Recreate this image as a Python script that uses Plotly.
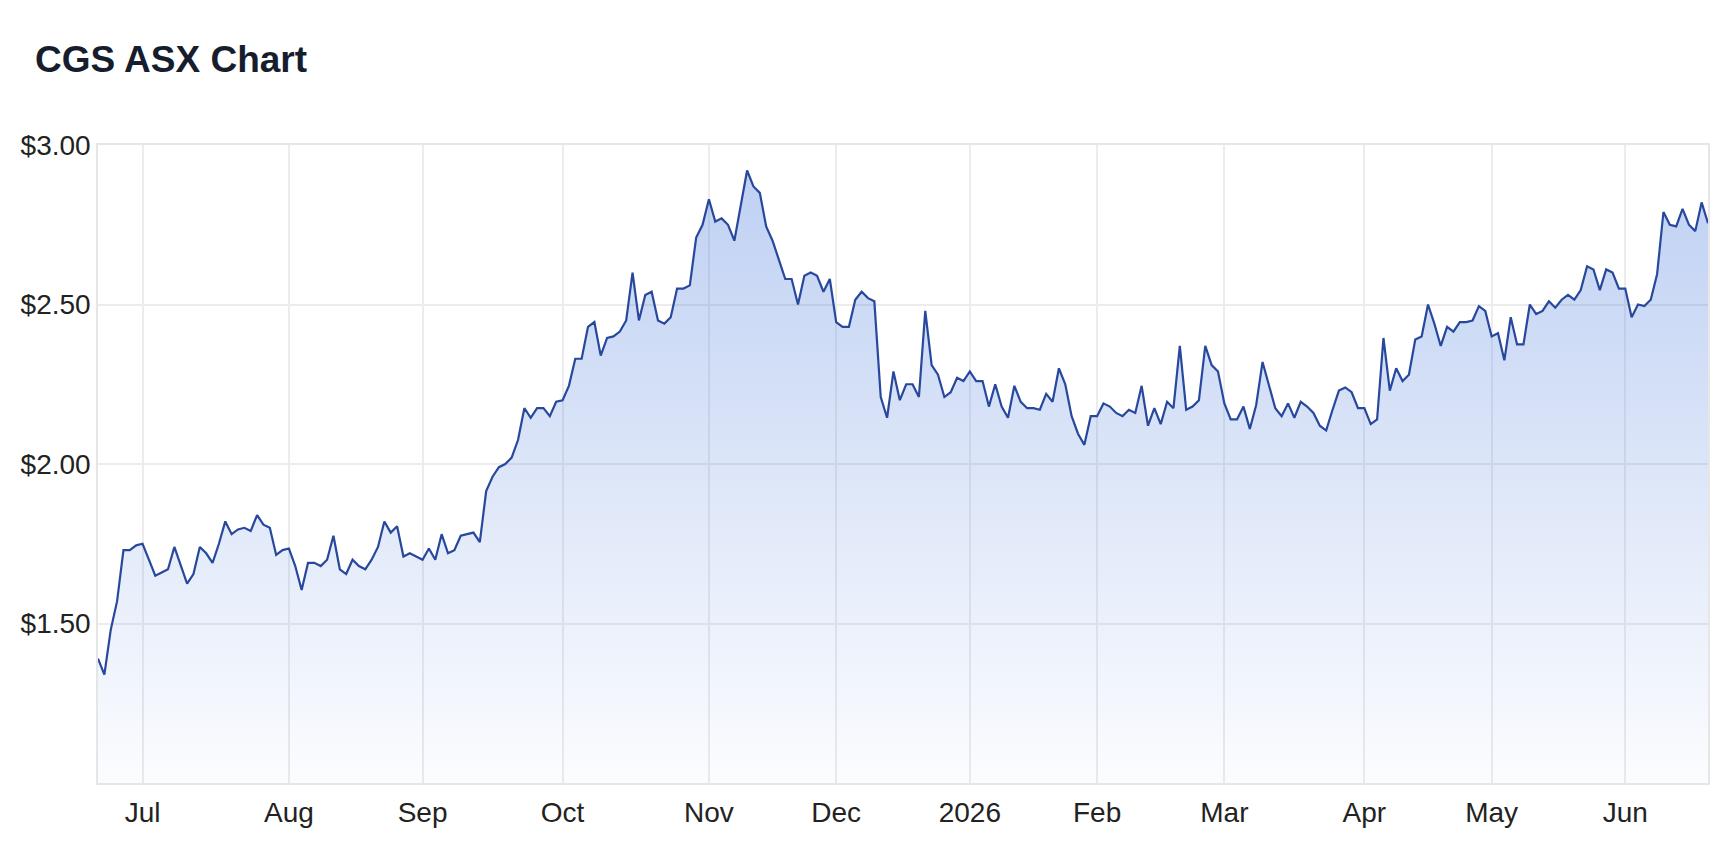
import pandas as pd
import plotly.graph_objects as go

# ASX trading days, 20 Jun 2025 - 19 Jun 2026
asx_holidays = ["2025-12-25", "2025-12-26", "2026-01-01", "2026-01-26",
                "2026-04-03", "2026-04-06", "2026-06-08"]
dates = pd.bdate_range("2025-06-20", "2026-06-19", freq="C", holidays=asx_holidays)
dates = [d.strftime("%Y-%m-%d") for d in dates]

close = [
    1.39, 1.34, 1.48, 1.57, 1.73, 1.73, 1.745, 1.75, 1.70, 1.65,
    1.66, 1.67, 1.74, 1.68, 1.625, 1.655, 1.74, 1.72, 1.69, 1.75,
    1.82, 1.78, 1.795, 1.80, 1.79, 1.84, 1.81, 1.80, 1.715, 1.73,
    1.735, 1.68, 1.605, 1.69, 1.69, 1.68, 1.70, 1.775, 1.67, 1.655,
    1.70, 1.68, 1.67, 1.70, 1.74, 1.82, 1.785, 1.805, 1.71, 1.72,
    1.71, 1.70, 1.735, 1.70, 1.78, 1.72, 1.73, 1.775, 1.78, 1.785,
    1.755, 1.915, 1.96, 1.99, 2.00, 2.02, 2.075, 2.175, 2.145, 2.175,
    2.175, 2.15, 2.195, 2.20, 2.245, 2.33, 2.33, 2.43, 2.445, 2.34,
    2.395, 2.40, 2.415, 2.45, 2.60, 2.45, 2.53, 2.54, 2.45, 2.44,
    2.46, 2.55, 2.55, 2.56, 2.71, 2.75, 2.83, 2.76, 2.77, 2.75,
    2.70, 2.81, 2.92, 2.87, 2.85, 2.745, 2.70, 2.64, 2.58, 2.58,
    2.50, 2.59, 2.60, 2.59, 2.54, 2.58, 2.445, 2.43, 2.43, 2.515,
    2.54, 2.52, 2.51, 2.21, 2.145, 2.29, 2.20, 2.25, 2.25, 2.21,
    2.48, 2.31, 2.28, 2.21, 2.225, 2.27, 2.26, 2.29, 2.26, 2.26,
    2.18, 2.25, 2.18, 2.145, 2.245, 2.195, 2.175, 2.175, 2.17, 2.22,
    2.195, 2.30, 2.25, 2.15, 2.095, 2.06, 2.15, 2.15, 2.19, 2.18,
    2.16, 2.15, 2.17, 2.16, 2.245, 2.12, 2.175, 2.125, 2.195, 2.175,
    2.37, 2.17, 2.18, 2.20, 2.37, 2.31, 2.29, 2.19, 2.14, 2.14,
    2.18, 2.11, 2.185, 2.32, 2.25, 2.175, 2.15, 2.19, 2.145, 2.195,
    2.18, 2.16, 2.12, 2.105, 2.17, 2.23, 2.24, 2.225, 2.175, 2.175,
    2.125, 2.14, 2.395, 2.23, 2.30, 2.26, 2.28, 2.39, 2.40, 2.50,
    2.44, 2.37, 2.43, 2.415, 2.445, 2.445, 2.45, 2.495, 2.48, 2.40,
    2.41, 2.325, 2.46, 2.375, 2.375, 2.50, 2.47, 2.48, 2.51, 2.49,
    2.515, 2.53, 2.515, 2.545, 2.62, 2.61, 2.545, 2.61, 2.60, 2.55,
    2.55, 2.46, 2.50, 2.495, 2.515, 2.595, 2.79, 2.75, 2.745, 2.80,
    2.75, 2.73, 2.82, 2.755,
]

month_labels = ["Jul", "Aug", "Sep", "Oct", "Nov", "Dec", "2026",
                "Feb", "Mar", "Apr", "May", "Jun"]
price_ticks = [1.5, 2.0, 2.5, 3.0]
price_labels = ["$%.2f" % v for v in price_ticks]

# first trading day of each month gets a tick
month_starts = []
for d in dates:
    if d[:7] not in [m[:7] for m in month_starts] and d[:7] != "2025-06":
        month_starts.append(d)

font = "Liberation Sans, Arial, sans-serif"

fig = go.Figure()
fig.add_trace(go.Scatter(
    x=dates, y=close, mode="lines",
    line=dict(color="#27489c", width=2.2),
    fill="tozeroy",
    fillgradient=dict(
        type="vertical", start=1.0, stop=3.0,
        colorscale=[[0, "rgba(70,120,220,0.02)"], [1, "rgba(70,120,220,0.36)"]],
    ),
    hoverinfo="skip",
))

fig.update_layout(
    width=1718, height=852,
    margin=dict(l=90, r=18, t=137, b=77),
    paper_bgcolor="white", plot_bgcolor="white",
    showlegend=False,
    title=dict(
        text="<b>CGS ASX Chart</b>",
        font=dict(family=font, size=37, color="#161e2e"),
        xref="container", yref="container",
        x=27 / 1718, xanchor="left",
        y=1 - 51 / 852, yanchor="middle",
    ),
)

fig.update_xaxes(
    type="category", range=[0, len(dates) - 1],
    tickmode="array", tickvals=month_starts, ticktext=month_labels,
    showgrid=True, gridcolor="#ececec", gridwidth=1.5,
    showline=True, linecolor="#e6e6e6", linewidth=1.5, mirror=True,
    ticks="", ticklabelstandoff=4,
    tickfont=dict(family=font, size=28, color="#222"),
)
fig.update_yaxes(
    range=[1.0, 3.0],
    tickmode="array", tickvals=price_ticks, ticktext=price_labels,
    showgrid=True, gridcolor="#ececec", gridwidth=1.5,
    showline=True, linecolor="#e6e6e6", linewidth=1.5, mirror=True,
    zeroline=False, ticks="", ticklabelstandoff=0,
    tickfont=dict(family=font, size=28, color="#222"),
)

fig.write_html("out.html")
